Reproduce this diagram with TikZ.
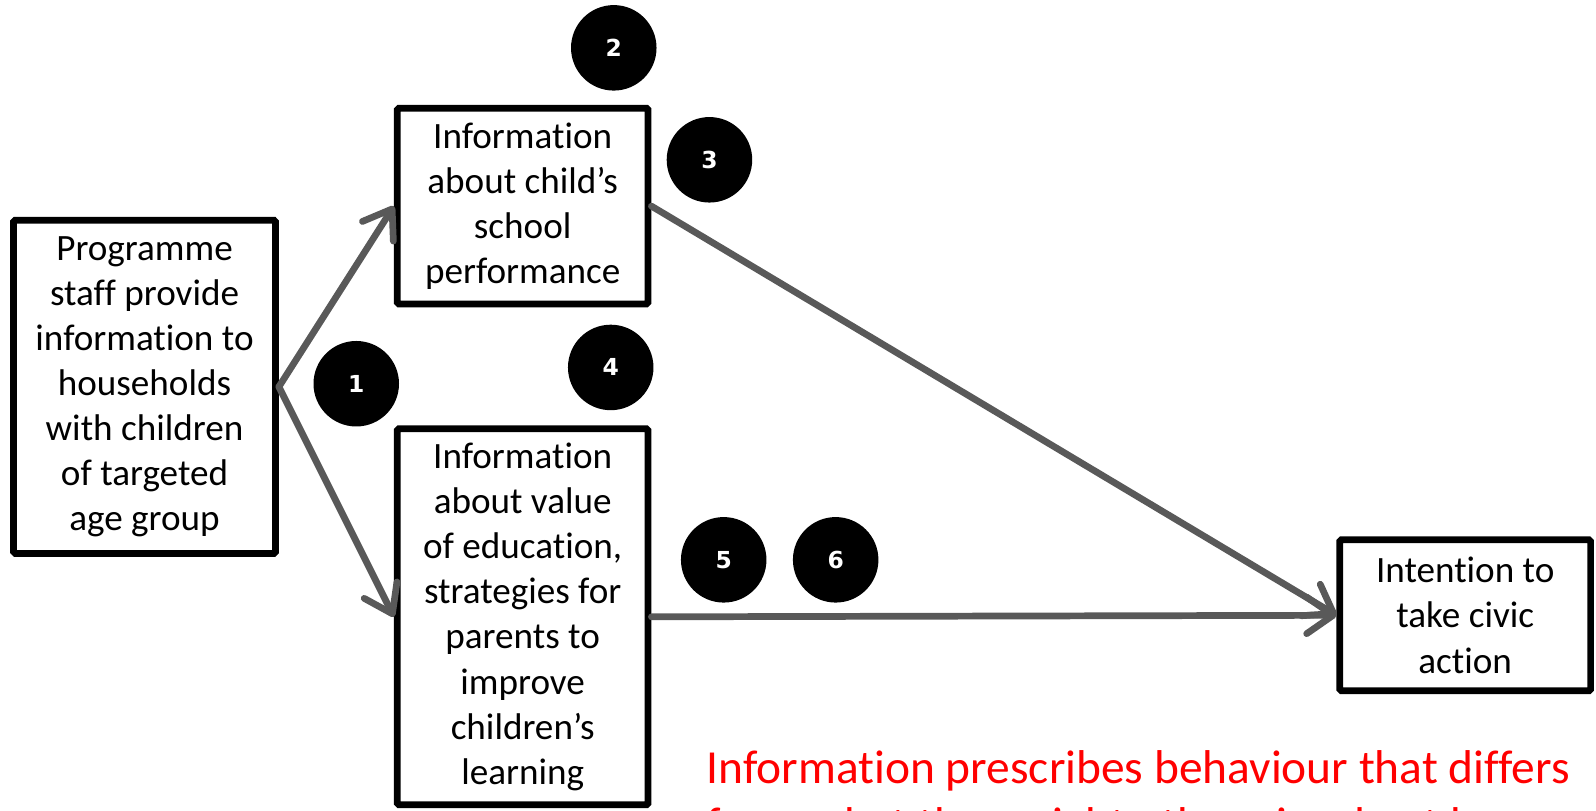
\documentclass[tikz,border=0pt]{standalone}
\usepackage{fontspec}
\setmainfont{Carlito}[Ligatures={TeX,NoCommon}]
\newfontfamily\numfont{DejaVu Sans}
\usetikzlibrary{arrows.meta}
\definecolor{arrowgray}{HTML}{595959}

\begin{document}
\begin{tikzpicture}[x=0.5pt, y=-0.5pt, >={Straight Barb[length=13pt,width=18pt,round]},
    box/.style={draw, line width=3.3pt, align=center, inner sep=0pt, rounded corners=0.8pt,
      font=\fontsize{18.25}{22.15}\selectfont},
    badge/.style={circle, fill=black, minimum size=42pt, inner sep=0pt, text=white,
      font=\numfont\bfseries\fontsize{11.5}{13}\selectfont},
    link/.style={->, draw=arrowgray, line width=3.3pt, line cap=round}]
    \useasboundingbox (0,0) rectangle (1568,796);

    \node[box, minimum width=128.7pt, minimum height=163.7pt] (prog) at (142,380)
      {Programme\\staff provide\\information to\\households\\with children\\of targeted\\age group};
    \node[box, minimum width=123.2pt, minimum height=96.2pt] (child) at (513.5,202.5)
      {Information\\about child's\\school\\performance};
    \node[box, minimum width=123.2pt, minimum height=184.7pt] (value) at (513.5,606)
      {Information\\about value\\of education,\\strategies for\\parents to\\improve\\children's\\learning};
    \node[box, minimum width=123.2pt, minimum height=74.2pt] (civic) at (1439.5,604.5)
      {Intention to\\take civic\\action};

    \node[badge] (n1) at (350,377) {1};
    \node[badge] (n2) at (603,47) {2};
    \node[badge] (n3) at (697,157) {3};
    \node[badge] (n4) at (600,361) {4};
    \node[badge] (n5) at (711,550) {5};
    \node[badge] (n6) at (821,550) {6};

    \draw[link] (prog.east) -- (child.west);
    \draw[link] (prog.east) -- (value.west);
    \draw[link] (child.east) -- (civic.west);
    \draw[link] (value.east) -- (civic.west);

    \node[anchor=base west, align=left, inner sep=0pt, text=red,
      font=\fontsize{23.3}{28}\selectfont] (note) at (694,826)
      {Information prescribes behaviour that differs\\from what they might otherwise do at home};
\end{tikzpicture}
\end{document}
